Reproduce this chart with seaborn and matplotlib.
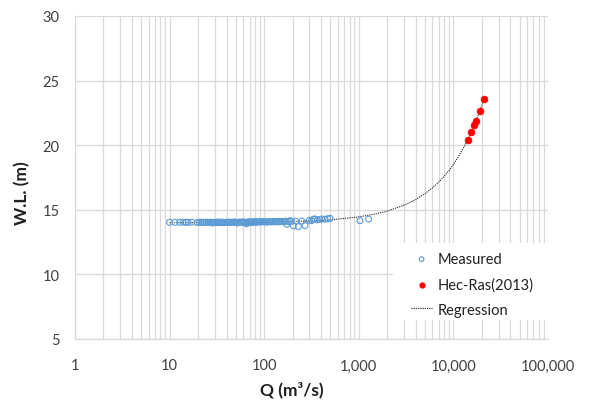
import matplotlib
matplotlib.use("Agg")
import matplotlib.pyplot as plt
import matplotlib.ticker as mticker
from matplotlib.patches import Rectangle
import numpy as np
import pandas as pd
import seaborn as sns

# ---------------- data ----------------
measured_q = [10, 11.4, 12.8, 13.9, 14.9, 15.7, 17.1, 19.5, 20.5, 21.5, 22.5, 23.5,
              24.5, 25.5, 26.5, 27.5, 28.5, 29.5, 30.5, 31.5, 32.5, 33.5, 34.5, 35.5,
              36.5, 38, 39.5, 41, 42.5, 44, 45.5, 47, 48.5, 50, 52, 54, 56, 58, 60,
              62, 64, 65, 67, 69, 71, 73, 75, 77, 79, 81, 83, 85, 88, 91, 94, 97, 100,
              103, 106, 110, 114, 118, 122, 126, 130, 135, 140, 145, 150, 156, 162,
              168, 173, 180, 187, 195, 203, 215, 230, 250, 270, 300, 317, 330, 343,
              365, 385, 406, 440, 470, 497, 1030, 1270]
measured_wl = [14.03, 14.03, 14.03, 14.04, 14.03, 14.03, 14.04, 14.02, 14.03, 14.04, 14.02, 14.03,
               14.04, 14.02, 14.03, 14.04, 13.98, 14.03, 14.02, 14.04, 14.03, 14.05, 14.02, 14.04,
               14.03, 14.01, 14.04, 14.03, 14.05, 14.02, 14.04, 14.03, 14.06, 14.02, 13.98, 14.04,
               14.05, 14.03, 14.06, 14.04, 14.02, 13.92, 14.05, 14.07, 14.04, 14.06, 14.03, 14.08,
               14.05, 14.07, 14.04, 14.06, 14.08, 14.05, 14.07, 14.09, 14.06, 14.08, 14.05, 14.07,
               14.09, 14.06, 14.08, 14.10, 14.07, 14.09, 14.06, 14.11, 14.08, 14.10, 14.07, 14.12,
               13.88, 14.09, 14.16, 14.11, 13.77, 14.12, 13.70, 14.13, 13.78, 14.18, 14.16, 14.27,
               14.29, 14.22, 14.25, 14.29, 14.27, 14.31, 14.34, 14.16, 14.29]

hec_q = [14170, 15490, 16680, 17380, 18970, 21300]
hec_wl = [20.38, 21.05, 21.59, 21.87, 22.62, 23.58]

reg_q = [10, 30, 100, 300, 500, 1000, 1500, 2000, 3000, 4000, 5000, 6000, 7000, 8000,
         9000, 10000, 11000, 12000, 13000, 14000, 15000, 16000, 17000, 18000, 19000,
         20000, 21300]
reg_wl = [14.00, 14.01, 14.04, 14.13, 14.22, 14.45, 14.68, 14.90, 15.35, 15.80, 16.25,
          16.70, 17.15, 17.60, 18.05, 18.50, 18.98, 19.45, 19.90, 20.35, 20.80, 21.30,
          21.75, 22.20, 22.65, 23.10, 23.65]

x_ticks = [1, 10, 100, 1000, 10000, 100000]
y_ticks = [5, 10, 15, 20, 25, 30]

df_meas = pd.DataFrame({"Q": measured_q, "WL": measured_wl})
df_hec = pd.DataFrame({"Q": hec_q, "WL": hec_wl})
df_reg = pd.DataFrame({"Q": reg_q, "WL": reg_wl})

# ---------------- styling ----------------
sns.set_theme(style="white")
plt.rcParams["font.family"] = ["Lato", "DejaVu Sans"]

fig = plt.figure(figsize=(5.93, 4.10), dpi=100)
ax = fig.add_axes([75 / 593, 1 - 340 / 410, 473 / 593, 323 / 410])

grid_c = "#d9d9d9"

ax.set_xscale("log")
ax.set_xlim(1, 100000)
ax.set_ylim(5, 30)

# grid
ax.set_xticks(x_ticks)
ax.xaxis.set_minor_locator(mticker.LogLocator(base=10, subs=np.arange(2, 10)))
ax.xaxis.set_minor_formatter(mticker.NullFormatter())
ax.set_yticks(y_ticks)
ax.grid(True, which="major", axis="both", color=grid_c, linewidth=0.9)
ax.grid(True, which="minor", axis="x", color=grid_c, linewidth=0.9)
ax.set_axisbelow(True)

# white legend background box (covers the grid)
ax.add_patch(Rectangle(((393 - 75) / 473, (340 - 321) / 323),
                       (548 - 393) / 473, (321 - 244) / 323,
                       transform=ax.transAxes, facecolor="white",
                       edgecolor="none", zorder=1))

sns.lineplot(data=df_reg, x="Q", y="WL", ax=ax, color="#202020", linewidth=0.8,
             linestyle=(0, (1, 1)), sort=False, estimator=None, label="Regression",
             zorder=3)
sns.scatterplot(data=df_meas, x="Q", y="WL", ax=ax, marker="o", s=18,
                facecolor="none", edgecolor="#5B9BD5", linewidth=0.8,
                label="Measured", zorder=4)
sns.scatterplot(data=df_hec, x="Q", y="WL", ax=ax, marker="o", s=24,
                color="#FF0000", edgecolor="#FF0000", linewidth=0.5,
                label="Hec-Ras(2013)", zorder=5)

ax.xaxis.set_major_formatter(mticker.FuncFormatter(lambda v, p: f"{int(round(v)):,}"))

for s in ["top", "right"]:
    ax.spines[s].set_visible(False)
for s in ["left", "bottom"]:
    ax.spines[s].set_visible(True)
    ax.spines[s].set_color(grid_c)
    ax.spines[s].set_linewidth(0.9)

ax.tick_params(axis="both", which="major", direction="out", length=5, width=0.9,
               color=grid_c, labelsize=10.5, labelcolor="#404040", pad=6)
ax.tick_params(axis="x", which="minor", length=0)
ax.tick_params(axis="x", which="major", pad=9)

ax.set_xlabel("Q (m³/s)", fontsize=12.5, fontweight="bold", color="#202020",
              va="center", ha="center")
ax.xaxis.set_label_coords((292 - 75) / 473, (340 - 390) / 323)
ax.set_ylabel("W.L. (m)", fontsize=12.5, fontweight="bold", color="#202020",
              va="center", ha="center")
ax.yaxis.set_label_coords((22 - 75) / 473, (340 - 193) / 323)

# legend
handles, labels = ax.get_legend_handles_labels()
order = [labels.index(l) for l in ["Measured", "Hec-Ras(2013)", "Regression"]]
leg = ax.legend([handles[i] for i in order], [labels[i] for i in order],
                loc="upper left", bbox_to_anchor=((411 - 75) / 473, (340 - 253) / 323),
                frameon=False, fontsize=10.5, handlelength=1.45, handletextpad=0.38,
                labelspacing=0.76, borderpad=0.0, borderaxespad=0.0,
                markerscale=0.8)
for t in leg.get_texts():
    t.set_color("#202020")

fig.savefig("out.png", dpi=100)
